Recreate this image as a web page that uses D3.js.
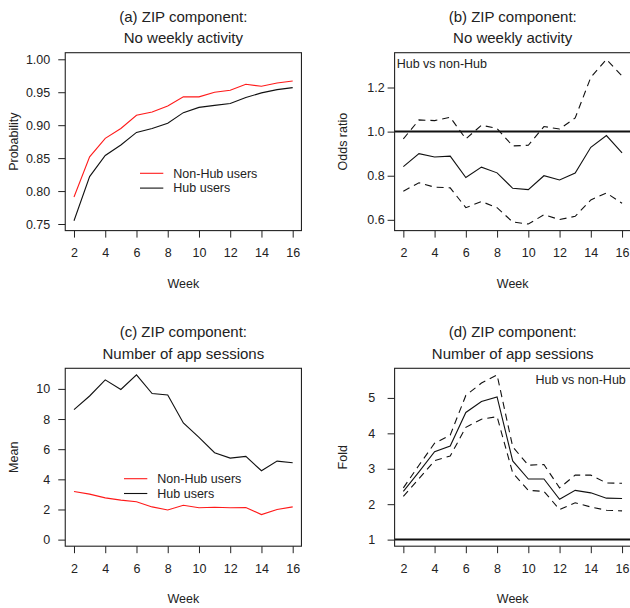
<!DOCTYPE html>
<html>
<head>
<meta charset="utf-8">
<script src="https://cdn.jsdelivr.net/npm/d3@7"></script>
<style>
  body { margin: 0; background: #fff; }
  svg text { font-family: "Liberation Sans", Arial, sans-serif; fill: #222; }
</style>
</head>
<body>
<svg id="chart" width="630" height="608"></svg>
<script>
// weeks on the x axis
var weeks = [2, 3, 4, 5, 6, 7, 8, 9, 10, 11, 12, 13, 14, 15, 16];
var weekTicks = [2, 4, 6, 8, 10, 12, 14, 16];

// (a) probability of no weekly activity
var probNonHub = [0.791, 0.852, 0.880, 0.895, 0.915, 0.920, 0.929, 0.943, 0.943, 0.950, 0.953, 0.962, 0.959, 0.964, 0.967];
var probHub    = [0.755, 0.822, 0.854, 0.870, 0.889, 0.895, 0.903, 0.919, 0.927, 0.930, 0.933, 0.942, 0.949, 0.954, 0.957];
var probTicks  = [0.75, 0.80, 0.85, 0.90, 0.95, 1.00];

// (b) odds ratio, Hub vs non-Hub, with bounds
var orEst   = [0.841, 0.900, 0.885, 0.889, 0.792, 0.839, 0.813, 0.743, 0.737, 0.800, 0.781, 0.812, 0.929, 0.982, 0.904];
var orUpper = [0.967, 1.053, 1.050, 1.065, 0.967, 1.029, 1.014, 0.935, 0.938, 1.023, 1.012, 1.062, 1.246, 1.328, 1.252];
var orLower = [0.730, 0.768, 0.748, 0.745, 0.655, 0.683, 0.655, 0.590, 0.581, 0.623, 0.601, 0.616, 0.690, 0.722, 0.675];
var orTicks = [0.6, 0.8, 1.0, 1.2];

// (c) mean number of app sessions
var meanNonHub = [3.19, 3.02, 2.77, 2.62, 2.51, 2.17, 1.97, 2.28, 2.11, 2.15, 2.11, 2.13, 1.66, 2.00, 2.17];
var meanHub    = [8.63, 9.53, 10.60, 9.96, 10.93, 9.69, 9.60, 7.74, 6.78, 5.77, 5.41, 5.52, 4.57, 5.21, 5.10];
var meanTicks  = [0, 2, 4, 6, 8, 10];

// (d) fold change, Hub vs non-Hub, with bounds
var foldEst   = [2.36, 2.91, 3.48, 3.64, 4.59, 4.90, 5.03, 3.22, 2.71, 2.71, 2.14, 2.39, 2.32, 2.17, 2.16];
var foldUpper = [2.46, 3.10, 3.72, 3.95, 5.07, 5.42, 5.65, 3.62, 3.10, 3.12, 2.46, 2.82, 2.82, 2.60, 2.59];
var foldLower = [2.22, 2.72, 3.23, 3.36, 4.17, 4.40, 4.47, 2.88, 2.39, 2.36, 1.85, 2.04, 1.92, 1.83, 1.81];
var foldTicks = [1, 2, 3, 4, 5];

var svg = d3.select('#chart');

// R style range padding (4% each side)
function pad(lo, hi) {
	var d = (hi - lo) * 0.04;
	return [lo - d, hi + d];
}

function drawPanel(cfg) {
	var g = svg.append('g').attr('transform', 'translate(' + cfg.left + ',' + cfg.top + ')');
	var w = cfg.width, h = cfg.height;

	var x = d3.scaleLinear().domain(pad(2, 16)).range([0, w]);
	var y = d3.scaleLinear().domain(cfg.yDomain).range([h, 0]);

	// titles
	g.append('text').attr('x', w / 2).attr('y', -31).attr('text-anchor', 'middle')
		.style('font-size', '15px').text(cfg.title[0]);
	g.append('text').attr('x', w / 2).attr('y', -9.5).attr('text-anchor', 'middle')
		.style('font-size', '15px').text(cfg.title[1]);

	// axes
	var xAxis = g.append('g').attr('transform', 'translate(0,' + h + ')')
		.call(d3.axisBottom(x).tickValues(weekTicks).tickSize(7).tickPadding(11).tickFormat(d3.format('d')));
	var yAxis = g.append('g')
		.call(d3.axisLeft(y).tickValues(cfg.yTicks).tickSize(7).tickPadding(cfg.yPad).tickFormat(cfg.yFormat));
	[xAxis, yAxis].forEach(a => {
		a.select('.domain').remove();
		a.selectAll('line').attr('stroke', '#222');
		a.selectAll('text').style('font-size', '12.5px').attr('fill', '#222')
			.style('font-family', '"Liberation Sans", Arial, sans-serif');
	});

	// axis titles
	g.append('text').attr('x', w / 2).attr('y', h + 57).attr('text-anchor', 'middle')
		.style('font-size', '12.5px').text('Week');
	g.append('text').attr('transform', 'translate(' + (-52) + ',' + (h / 2) + ') rotate(-90)')
		.attr('text-anchor', 'middle').attr('dy', '0.35em')
		.style('font-size', '12.5px').text(cfg.yLabel);

	// reference line
	if (cfg.refLine !== undefined) {
		g.append('line').attr('x1', 0).attr('x2', w)
			.attr('y1', y(cfg.refLine)).attr('y2', y(cfg.refLine))
			.attr('stroke', '#111').attr('stroke-width', 2);
	}

	// series
	var line = d3.line().x((d, i) => x(weeks[i])).y(d => y(d));
	cfg.series.forEach(s => {
		g.append('path').datum(s.values)
			.attr('d', line)
			.attr('fill', 'none')
			.attr('stroke', s.color)
			.attr('stroke-width', 1.1)
			.attr('stroke-dasharray', s.dash ? '7,5' : null);
	});

	// box
	g.append('rect').attr('width', w).attr('height', h)
		.attr('fill', 'none').attr('stroke', '#222').attr('stroke-width', 1.1);

	// legend
	if (cfg.legend) {
		var lg = g.append('g').attr('transform', 'translate(' + cfg.legend.x + ',' + cfg.legend.y + ')');
		cfg.legend.items.forEach((it, i) => {
			lg.append('line').attr('x1', 0).attr('x2', 23.3)
				.attr('y1', i * 14.8).attr('y2', i * 14.8)
				.attr('stroke', it.color).attr('stroke-width', 1.1);
			lg.append('text').attr('x', 33.3).attr('y', i * 14.8).attr('dy', '0.35em')
				.style('font-size', '12.5px').text(it.label);
		});
	}

	// note
	if (cfg.note) {
		g.append('text').attr('x', cfg.note.x).attr('y', cfg.note.y)
			.attr('dy', '0.35em').attr('text-anchor', cfg.note.anchor)
			.style('font-size', '12.5px').text(cfg.note.text);
	}
}

var W = 236.2, H = 177.9;
var legendItems = [
	{ label: 'Non-Hub users', color: '#ff1a1a' },
	{ label: 'Hub users', color: '#111' }
];

drawPanel({
	left: 65.25, top: 52.7, width: W, height: H,
	title: ['(a) ZIP component:', 'No weekly activity'],
	yLabel: 'Probability',
	yDomain: pad(0.75, 1.0), yTicks: probTicks, yFormat: d3.format('.2f'), yPad: 8,
	series: [
		{ values: probNonHub, color: '#ff1a1a' },
		{ values: probHub, color: '#111' }
	],
	legend: { x: 74.75, y: 120.6, items: legendItems }
});

drawPanel({
	left: 394.6, top: 52.7, width: W, height: H,
	title: ['(b) ZIP component:', 'No weekly activity'],
	yLabel: 'Odds ratio',
	yDomain: pad(d3.min(orLower), d3.max(orUpper)), yTicks: orTicks, yFormat: d3.format('.1f'), yPad: 3,
	refLine: 1,
	series: [
		{ values: orEst, color: '#111' },
		{ values: orUpper, color: '#111', dash: true },
		{ values: orLower, color: '#111', dash: true }
	],
	note: { x: 2.1, y: 10.6, anchor: 'start', text: 'Hub vs non-Hub' }
});

drawPanel({
	left: 65.25, top: 368.3, width: W, height: H,
	title: ['(c) ZIP component:', 'Number of app sessions'],
	yLabel: 'Mean',
	yDomain: pad(0, d3.max(meanHub)), yTicks: meanTicks, yFormat: d3.format('d'), yPad: 8,
	series: [
		{ values: meanNonHub, color: '#ff1a1a' },
		{ values: meanHub, color: '#111' }
	],
	legend: { x: 58.75, y: 110.4, items: legendItems }
});

drawPanel({
	left: 394.6, top: 368.3, width: W, height: H,
	title: ['(d) ZIP component:', 'Number of app sessions'],
	yLabel: 'Fold',
	yDomain: pad(1, d3.max(foldUpper)), yTicks: foldTicks, yFormat: d3.format('d'), yPad: 12.5,
	refLine: 1,
	series: [
		{ values: foldEst, color: '#111' },
		{ values: foldUpper, color: '#111', dash: true },
		{ values: foldLower, color: '#111', dash: true }
	],
	note: { x: W - 5, y: 11.7, anchor: 'end', text: 'Hub vs non-Hub' }
});
</script>
</body>
</html>
